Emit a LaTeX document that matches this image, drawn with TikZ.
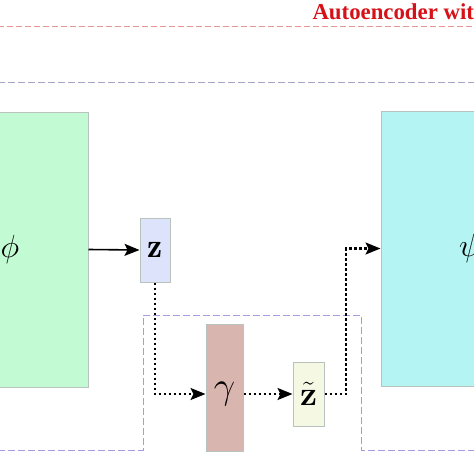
\RequirePackage{fix-cm}
\documentclass[tikz,border=0pt]{standalone}
\usepackage{bm}
\usepackage{fontspec}
\newfontfamily\titlefont{Liberation Serif}
\usetikzlibrary{arrows.meta}
\definecolor{titlered}{RGB}{214,18,24}
\definecolor{redline}{RGB}{230,150,150}
\definecolor{frameline}{RGB}{165,155,225}
\definecolor{topline}{RGB}{165,165,200}
\definecolor{encgreen}{RGB}{194,250,212}
\definecolor{deccyan}{RGB}{180,244,242}
\definecolor{zblue}{RGB}{221,227,250}
\definecolor{gamrose}{RGB}{216,181,175}
\definecolor{ztyellow}{RGB}{245,249,228}
\definecolor{boxline}{RGB}{185,195,190}
\begin{document}
\begin{tikzpicture}[x=1pt,y=-1pt,
	box/.style={draw=boxline, line width=1pt, inner sep=0pt},
	bigsym/.style={font=\fontsize{32}{36}\selectfont},
	flow/.style={line width=2.2pt, dash pattern=on 2.6pt off 2.4pt, -{Stealth[length=15pt,width=12pt,inset=3pt]}},
	solidflow/.style={line width=1.6pt, -{Stealth[length=15pt,width=12pt,inset=3pt]}}]
		\useasboundingbox (0,0) rectangle (474,474);
		\clip (0,0) rectangle (474,474);

		\node[anchor=base west, text=titlered, font=\titlefont\bfseries\fontsize{22.8}{26}\selectfont] (title) at (309,19) {Autoencoder wit};
		\draw [redline, line width=1pt, dash pattern=on 6pt off 3pt] (-2,26) to (476,26);
		\draw [topline, line width=1pt, dash pattern=on 7pt off 3pt] (-2,82) to (476,82);
		\draw [frameline, line width=1pt, dash pattern=on 7pt off 3pt] (-2,450) -- (143,450) -- (143,315) -- (361,315) -- (361,450) -- (476,450);

		\node[box, fill=encgreen, minimum width=156pt, minimum height=275pt, bigsym] (enc) at (10,249.5) {$\phi$};
		\node[box, fill=deccyan, minimum width=178pt, minimum height=275pt, bigsym] (dec) at (470,248.5) {$\psi$};
		\node[box, fill=zblue, minimum width=30pt, minimum height=64pt, font=\fontsize{34}{38}\selectfont] (z) at (155,250) {$\mathbf{z}$};
		\node[box, fill=gamrose, minimum width=37pt, minimum height=127pt] (gam) at (224.5,387.5) {};
		\node[font=\fontsize{38}{42}\selectfont] (gamlabel) at (224.5,394) {$\gamma$};
		\node[box, fill=ztyellow, minimum width=31pt, minimum height=64pt, font=\fontsize{34}{38}\selectfont] (zt) at (308.5,394) {$\bm{\tilde{\mathbf{z}}}$};
		\coordinate (turn) at (346,0);

		\draw [solidflow] (enc.east) to (z.west);
		\draw [flow] (z.south) |- (gam.west |- zt.west);
		\draw [flow] (gam.east |- zt.west) to (zt.west);
		\draw [flow] (zt.east) -| (turn |- dec.west) -- (dec.west);
	\end{tikzpicture}
\end{document}
